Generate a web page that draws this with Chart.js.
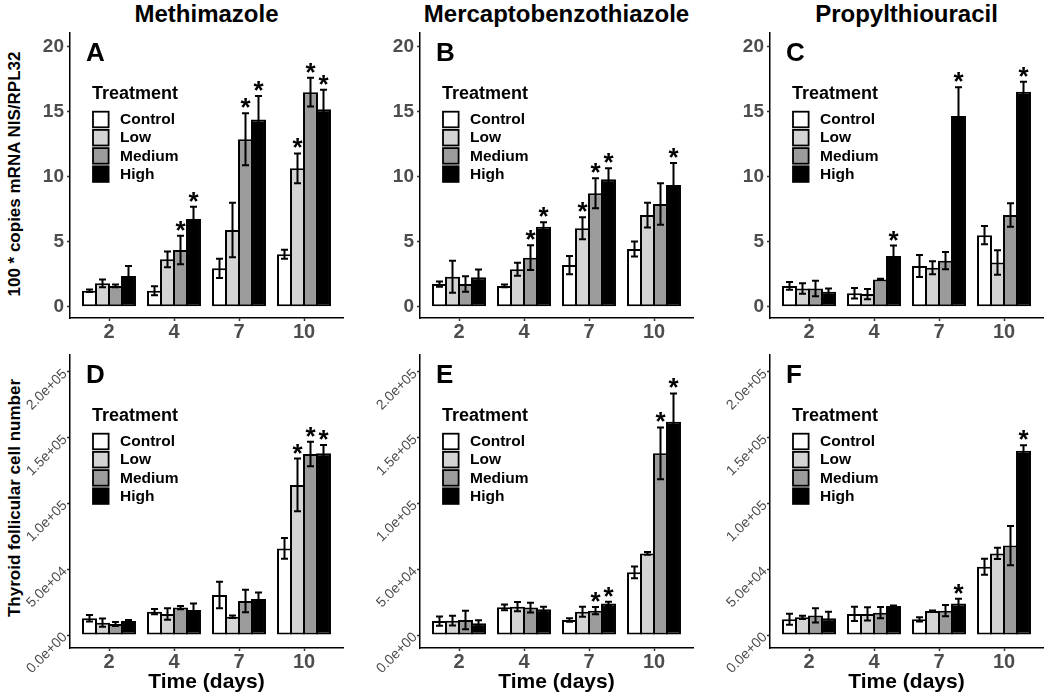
<!DOCTYPE html>
<html>
<head>
<meta charset="utf-8">
<script src="https://cdn.jsdelivr.net/npm/chart.js@4.4.1/dist/chart.umd.min.js"></script>
<style>
  body { margin: 0; background: #fff; width: 1050px; height: 697px; position: relative; overflow: hidden;
         font-family: "Liberation Sans", Arial, Helvetica, sans-serif; }
  canvas { position: absolute; }
  .col-title { position: absolute; top: 0; width: 273px; text-align: center; font-weight: bold;
               font-size: 24px; line-height: 28px; color: #000; white-space: nowrap; }
  .y-title { position: absolute; font-weight: bold; font-size: 17px; white-space: nowrap; color: #000;
             transform: translate(-50%, -50%) rotate(-90deg); }
</style>
</head>
<body>
<div class="col-title" style="left:70px">Methimazole</div>
<div class="col-title" style="left:420px">Mercaptobenzothiazole</div>
<div class="col-title" style="left:770px">Propylthiouracil</div>
<div class="y-title" style="left:15px;top:174px">100 * copies mRNA NIS/RPL32</div>
<div class="y-title" style="left:15px;top:498px">Thyroid follicular cell number</div>

<script>
// ─── Data ─────────────────────────────────────────────────────────────────────
const days = ['2', '4', '7', '10'];
const treatments = ['Control', 'Low', 'Medium', 'High'];
const fills = ['#ffffff', '#d4d4d4', '#9b9b9b', '#000000'];

const nisTicks = [0, 5, 10, 15, 20];
const cellTicks = [0, 50000, 100000, 150000, 200000];
const cellTickLabels = ['0.0e+00', '5.0e+04', '1.0e+05', '1.5e+05', '2.0e+05'];

// rows = treatments (Control, Low, Medium, High), columns = days
// A: Methimazole, NIS mRNA
const mmiNisMean = [[1.23, 1.23, 2.95, 4.03], [1.8, 3.64, 5.9, 10.64], [1.6, 4.36, 12.87, 16.5], [2.36, 6.74, 14.4, 15.18]];
const mmiNisErr  = [[0.1, 0.35, 0.74, 0.35], [0.3, 0.6, 2.1, 1.15], [0.1, 1.1, 2.0, 1.1], [0.77, 0.95, 1.8, 1.5]];
const mmiNisSig  = [[0, 0, 0, 0], [0, 0, 0, 1], [0, 1, 1, 1], [0, 1, 1, 1]];

// B: Mercaptobenzothiazole, NIS mRNA
const mbtNisMean = [[1.74, 1.6, 3.2, 4.44], [2.3, 2.87, 6.03, 7.05], [1.74, 3.77, 8.72, 7.9], [2.26, 6.15, 9.8, 9.36]];
const mbtNisErr  = [[0.2, 0.1, 0.7, 0.58], [1.23, 0.5, 0.85, 0.95], [0.6, 0.95, 1.15, 1.6], [0.6, 0.35, 0.85, 1.7]];
const mbtNisSig  = [[0, 0, 0, 0], [0, 0, 1, 0], [0, 1, 1, 0], [0, 1, 1, 1]];

// C: Propylthiouracil, NIS mRNA
const ptuNisMean = [[1.6, 1.03, 3.13, 5.5], [1.4, 0.97, 3.0, 3.4], [1.4, 2.1, 3.54, 7.05], [1.15, 3.9, 14.67, 16.54]];
const ptuNisErr  = [[0.3, 0.4, 0.85, 0.7], [0.4, 0.4, 0.5, 0.95], [0.6, 0.05, 0.67, 0.9], [0.25, 0.8, 2.2, 0.77]];
const ptuNisSig  = [[0, 0, 0, 0], [0, 0, 0, 0], [0, 0, 0, 0], [0, 1, 1, 1]];

// D: Methimazole, follicular cell number
const mmiCellMean = [[12700, 17700, 30400, 65800], [9400, 16000, 13900, 114000], [8400, 20800, 25800, 137500], [10600, 19000, 27300, 138000]];
const mmiCellErr  = [[2500, 2000, 10000, 7800], [3200, 4400, 1000, 20000], [1500, 1300, 8600, 9300], [800, 5000, 5000, 6300]];
const mmiCellSig  = [[0, 0, 0, 0], [0, 0, 0, 1], [0, 0, 0, 1], [0, 0, 0, 1]];

// E: Mercaptobenzothiazole, follicular cell number
const mbtCellMean = [[10600, 21000, 11400, 47600], [10900, 21500, 17700, 62000], [11400, 20800, 18500, 138000], [8900, 19500, 24000, 162000]];
const mbtCellErr  = [[3500, 2200, 1300, 4400], [3700, 3500, 3800, 1000], [7000, 3700, 2800, 19700], [2300, 1900, 1300, 21500]];
const mbtCellSig  = [[0, 0, 0, 0], [0, 0, 0, 0], [0, 0, 1, 1], [0, 0, 1, 1]];

// F: Propylthiouracil, follicular cell number
const ptuCellMean = [[11900, 16000, 11900, 51900], [13400, 16000, 18200, 62000], [14900, 17000, 18500, 67900], [12700, 22000, 24000, 140000]];
const ptuCellErr  = [[4200, 5400, 1600, 6100], [1300, 5000, 500, 4200], [5400, 4200, 4200, 14900], [5000, 500, 3500, 4200]];
const ptuCellSig  = [[0, 0, 0, 0], [0, 0, 0, 0], [0, 0, 0, 0], [0, 0, 1, 1]];

const panels = [
  { id: 'A', row: 0, col: 0, mean: mmiNisMean,  err: mmiNisErr,  sig: mmiNisSig },
  { id: 'B', row: 0, col: 1, mean: mbtNisMean,  err: mbtNisErr,  sig: mbtNisSig },
  { id: 'C', row: 0, col: 2, mean: ptuNisMean,  err: ptuNisErr,  sig: ptuNisSig },
  { id: 'D', row: 1, col: 0, mean: mmiCellMean, err: mmiCellErr, sig: mmiCellSig },
  { id: 'E', row: 1, col: 1, mean: mbtCellMean, err: mbtCellErr, sig: mbtCellSig },
  { id: 'F', row: 1, col: 2, mean: ptuCellMean, err: ptuCellErr, sig: ptuCellSig },
];

// ─── Setup ────────────────────────────────────────────────────────────────────
const FONT = '"Liberation Sans", Arial, Helvetica, sans-serif';
Chart.defaults.font.family = FONT;
Chart.defaults.animation = false;

// error bars, asterisks, panel letter and legend
function panelExtras(p) {
  return {
    id: 'extras' + p.id,
    afterDatasetsDraw(chart) {
      const ctx = chart.ctx;
      const ys = chart.scales.y;
      ctx.save();
      ctx.strokeStyle = '#000';
      ctx.fillStyle = '#000';
      ctx.lineWidth = 2;
      ctx.font = 'bold 26px ' + FONT;
      ctx.textAlign = 'center';
      ctx.textBaseline = 'alphabetic';
      treatments.forEach((t, i) => {
        chart.getDatasetMeta(i).data.forEach((bar, d) => {
          const m = p.mean[i][d], e = p.err[i][d];
          const y1 = ys.getPixelForValue(m + e);
          const y2 = ys.getPixelForValue(m - e);
          ctx.beginPath();
          ctx.moveTo(bar.x, y1); ctx.lineTo(bar.x, y2);
          ctx.moveTo(bar.x - 3.5, y1); ctx.lineTo(bar.x + 3.5, y1);
          ctx.moveTo(bar.x - 3.5, y2); ctx.lineTo(bar.x + 3.5, y2);
          ctx.stroke();
          if (p.sig[i][d]) ctx.fillText('*', bar.x, y1 + 3);
        });
      });

      const { left, top } = chart.chartArea;
      ctx.textAlign = 'left';
      ctx.textBaseline = 'middle';
      ctx.font = 'bold 26px ' + FONT;
      ctx.fillText(p.id, left + 16, top + 21);

      ctx.font = 'bold 18px ' + FONT;
      ctx.fillText('Treatment', left + 22, top + 61);
      ctx.lineWidth = 1.8;
      treatments.forEach((t, i) => {
        const cy = top + 86.5 + i * 18.2;
        ctx.fillStyle = fills[i];
        ctx.fillRect(left + 23, cy - 7.8, 15.6, 15.6);
        ctx.strokeRect(left + 23, cy - 7.8, 15.6, 15.6);
        ctx.fillStyle = '#000';
        ctx.font = 'bold 15.5px ' + FONT;
        ctx.fillText(t, left + 50, cy + 0.5);
      });
      ctx.restore();
    }
  };
}

function makePanel(p) {
  const isNis = p.row === 0;
  const canvas = document.createElement('canvas');
  canvas.width = 350;
  canvas.height = isNis ? 315 : 352;
  canvas.style.left = (p.col * 350) + 'px';
  canvas.style.top = (isNis ? 30 : 345) + 'px';
  document.body.appendChild(canvas);

  const yTicks = isNis ? nisTicks : cellTicks;
  const axisGrid = { drawOnChartArea: false, offset: false, tickLength: 3, tickWidth: 1.5, color: '#333' };
  const axisBorder = { color: '#000', width: 1.5 };

  new Chart(canvas, {
    type: 'bar',
    data: {
      labels: days.map((d, i) => i + 1),
      datasets: treatments.map((t, i) => ({
        label: t,
        data: p.mean[i],
        backgroundColor: fills[i],
        borderColor: '#000',
        borderWidth: 2,
        borderSkipped: false,
        categoryPercentage: 0.8,
        barPercentage: 1.15,
      }))
    },
    options: {
      responsive: false,
      animation: false,
      layout: { padding: { left: 0, right: 7, top: isNis ? 3 : 10, bottom: 0 } },
      plugins: { legend: { display: false }, tooltip: { enabled: false } },
      scales: {
        x: {
          type: 'linear', min: 0.4, max: 4.6, offset: false,
          afterBuildTicks: s => { s.ticks = days.map((d, i) => ({ value: i + 1 })); },
          afterFit: s => { s.height = isNis ? 27 : 49; s.paddingLeft = 0; s.paddingRight = 0; },
          grid: axisGrid,
          border: axisBorder,
          ticks: {
            autoSkip: false, maxRotation: 0, padding: 1, color: '#4d4d4d',
            font: { size: 20, weight: 'bold', lineHeight: 1 },
            callback: (v, i) => days[i]
          },
          title: {
            display: !isNis, text: 'Time (days)', color: '#000',
            font: { size: 21, weight: 'bold' }, padding: { top: 0, bottom: 2 }
          }
        },
        y: {
          min: isNis ? -0.87 : -9870,
          max: isNis ? 21.05 : 212700,
          afterBuildTicks: s => { s.ticks = yTicks.map(v => ({ value: v })); },
          afterFit: s => { s.width = 70; s.paddingTop = 0; s.paddingBottom = 0; },
          grid: axisGrid,
          border: axisBorder,
          ticks: isNis
            ? { padding: 3, color: '#4d4d4d', font: { size: 19, weight: 'bold' },
                callback: (v, i) => String(nisTicks[i]) }
            : { padding: 2, minRotation: 45, maxRotation: 45, color: '#4d4d4d', font: { size: 14 },
                callback: (v, i) => cellTickLabels[i] }
        }
      }
    },
    plugins: [panelExtras(p)]
  });
}

panels.forEach(makePanel);
</script>
</body>
</html>
